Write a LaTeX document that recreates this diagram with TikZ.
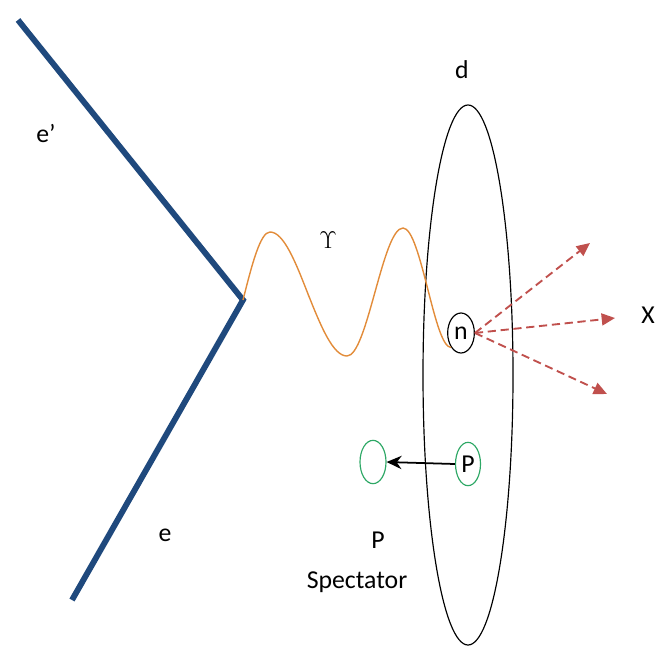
\documentclass[tikz,border=0pt]{standalone}
\usepackage{fontspec}
\setmainfont{Carlito}
\usetikzlibrary{arrows.meta, shapes.geometric}

\definecolor{legblue}{RGB}{31,73,125}
\definecolor{photon}{RGB}{226,140,58}
\definecolor{jetred}{RGB}{192,80,77}
\definecolor{protgreen}{RGB}{46,168,102}

\tikzset{
  particle/.style={draw, ellipse, line width=1pt, inner sep=0pt},
  lbl/.style={inner sep=0pt, font=\fontsize{22}{26}\selectfont},
}

\begin{document}
\begin{tikzpicture}[x=0.03cm, y=-0.03cm, >=Stealth]
    \useasboundingbox (0,0) rectangle (657,645);
    \clip (0,0) rectangle (657,645);

    % electron legs
    \coordinate (ein) at (72,600);
    \coordinate (eout) at (18,20);
    \coordinate (vtx) at (243,300);
    \draw[line width=5pt, legblue, line join=miter] (eout) -- (vtx) -- (ein);
    \node[lbl] (eprime) at (46,133) {e’};
    \node[lbl] (elab) at (165,535) {e};

    % deuteron and its nucleons
    \node[particle, minimum width=2.7cm, minimum height=16.2cm] (deut) at (468,375) {};
    \node[lbl] (dlab) at (462,70) {d};
    \node[particle, minimum width=0.8cm, minimum height=1.2cm, lbl] (n) at (461,333) {n};
    \node[particle, protgreen, text=black, minimum width=0.75cm, minimum height=1.3cm, lbl] (p) at (468,464) {P};
    \node[particle, protgreen, minimum width=0.78cm, minimum height=1.3cm] (spec) at (373,462) {};
    \draw[-{Stealth[length=4.5mm, width=4mm]}, line width=1.5pt] (p.west) -- (spec.east);
    \node[lbl] (plab) at (378,540) {P};
    \node[lbl] (speclab) at (357,582) {Spectator};

    % virtual photon
    \draw[photon, line width=1.2pt] (vtx) sin (270,232) cos (308,294) sin (347,356)
        cos (375,292) sin (403,228) cos (428,290) sin (n.south west);
    \node[lbl] (glab) at (328,240) {$\Upsilon$};

    % hadronic final state
    \coordinate (x1) at (590,243);
    \coordinate (x2) at (615,318);
    \coordinate (x3) at (607,394);
    \foreach \c in {x1, x2, x3}
        \draw[-{Triangle[length=4mm, width=3.6mm]}, dash pattern=on 7pt off 4pt, jetred, line width=1.6pt] (n.east) -- (\c);
    \node[lbl, anchor=east] (xlab) at (655,315) {X};
\end{tikzpicture}
\end{document}
